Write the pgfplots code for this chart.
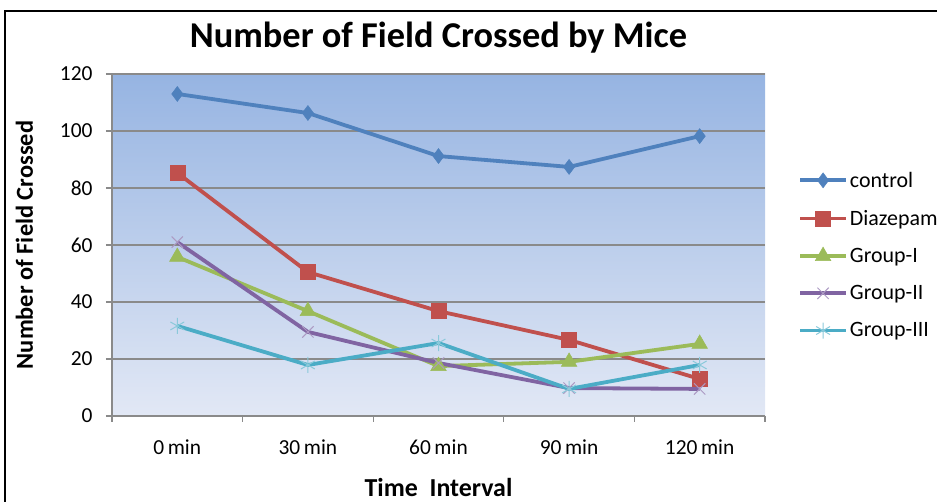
\documentclass[border=0pt]{standalone}
\usepackage{pgfplots}
\pgfplotsset{compat=1.18}
\usepackage{fontspec}
\setmainfont{Carlito}
\definecolor{cA}{HTML}{4F81BD}
\definecolor{cB}{HTML}{C0504D}
\definecolor{cC}{HTML}{9BBB59}
\definecolor{cD}{HTML}{8064A2}
\definecolor{cE}{HTML}{4BACC6}
\definecolor{gridc}{HTML}{8A8A8A}
\definecolor{bgtop}{RGB}{150,180,226}
\definecolor{bgbot}{RGB}{226,232,245}
\begin{document}
\begin{tikzpicture}[x=1bp,y=1bp]
\draw[line width=2.2bp] (-107,-140) rectangle (870,405);
\begin{axis}[
  at={(0,0)}, anchor=south west, scale only axis,
  width=653bp, height=342bp,
  xmin=-0.5, xmax=4.5, ymin=0, ymax=120,
  ytick={0,20,...,120},
  xtick={-0.5,0.5,1.5,2.5,3.5,4.5}, xticklabels={},
  extra x ticks={0,1,2,3,4},
  extra x tick labels={0\,min,30\,min,60\,min,90\,min,120\,min},
  extra x tick style={major tick length=0pt, tick label style={yshift=-20bp}},
  axis x line*=bottom, axis y line*=left,
  axis line style={color=gridc, line width=1.2bp},
  tick style={color=gridc, line width=1.2bp},
  major tick length=6bp, tick align=outside,
  ymajorgrids, grid style={color=gridc, line width=1.3bp},
  axis background/.style={shade, top color=bgtop, bottom color=bgbot},
  tick label style={font=\fontsize{21.5}{25}\selectfont, color=black},
  yticklabel style={xshift=-10bp},
  /pgf/number format/assume math mode=true,
  title={Number of Field Crossed by Mice},
  title style={font=\fontsize{36.5}{42}\selectfont\bfseries, at={(axis description cs:0.5,1)}, anchor=center, yshift=30bp},
  ylabel={Number of Field Crossed},
  ylabel style={font=\fontsize{24.5}{28}\selectfont\bfseries, at={(axis description cs:-0.134,0.5)}, anchor=center},
  xlabel={Time\ \ Interval},
  xlabel style={font=\fontsize{26}{30}\selectfont\bfseries, at={(axis description cs:0.5,-0.21)}, anchor=center},
  legend style={at={(axis description cs:1.0505,0.72)}, anchor=north west, draw=none, fill=none,
    font=\fontsize{22}{26}\selectfont, row sep=17.5bp, inner sep=0pt,
    nodes={inner sep=2bp}},
  legend cell align=left,
  legend image code/.code={\draw[mark repeat=2,mark phase=2,#1] plot coordinates {(0bp,0bp) (23bp,0bp) (46bp,0bp)};},
  every axis plot/.append style={line width=3.8bp},
]
\addplot[color=cA, mark=diamond*, mark size=7.5bp, mark options={solid, fill=cA, draw=cA, line width=0.5bp}]
  coordinates {(0,113) (1,106.3) (2,91.2) (3,87.4) (4,98.2)};
\addlegendentry{control}
\addplot[color=cB, mark=square*, mark size=7.5bp, mark options={solid, fill=cB, draw=cB, line width=0.5bp}]
  coordinates {(0,85.3) (1,50.5) (2,36.8) (3,26.7) (4,13)};
\addlegendentry{Diazepam}
\addplot[color=cC, mark=triangle*, mark size=9bp, mark options={solid, fill=cC, draw=cC, line width=0.5bp}]
  coordinates {(0,55.8) (1,36.8) (2,17.5) (3,19) (4,25.3)};
\addlegendentry{Group-I}
\addplot[color=cD, mark=x, mark size=8bp, mark options={solid, draw=cD!65!white, line width=1bp}]
  coordinates {(0,61) (1,29.5) (2,18.6) (3,9.8) (4,9.5)};
\addlegendentry{Group-II}
\addplot[color=cE, mark=asterisk, mark size=8bp, mark options={solid, draw=cE!65!white, line width=1bp}]
  coordinates {(0,31.6) (1,17.9) (2,25.6) (3,9.5) (4,17.9)};
\addlegendentry{Group-III}
\end{axis}
\pgfresetboundingbox
\useasboundingbox (-112,-86) rectangle (825,416);
\end{tikzpicture}
\end{document}
